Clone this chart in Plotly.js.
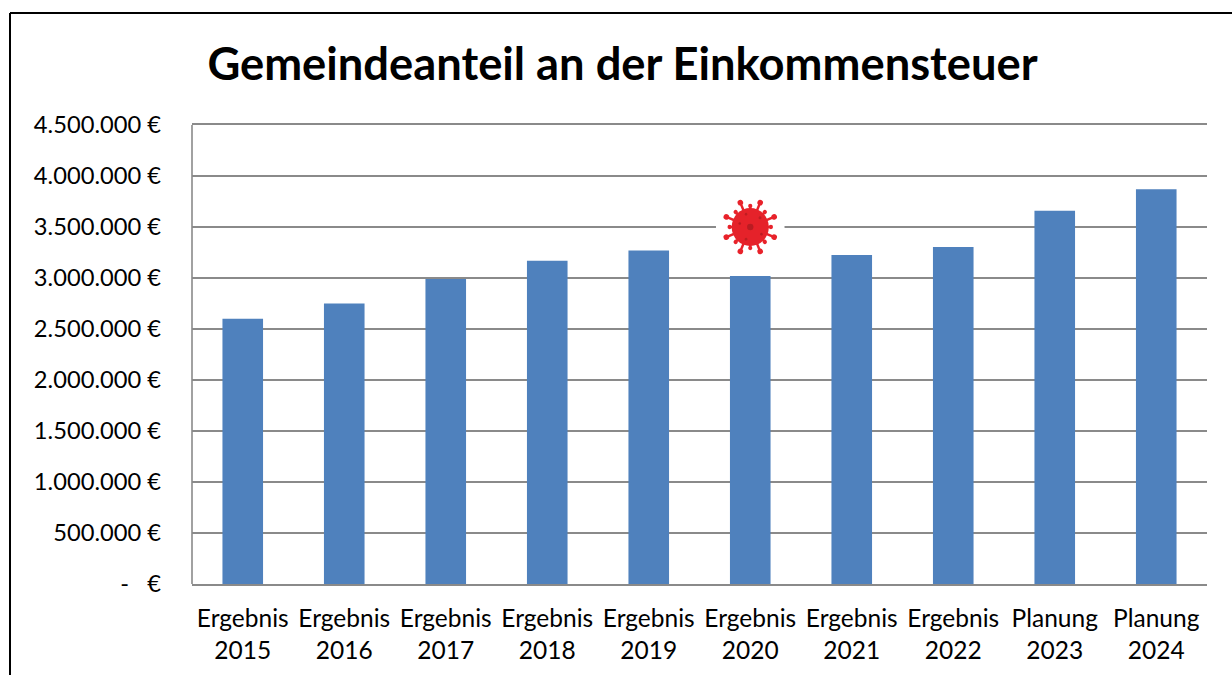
<!DOCTYPE html>
<html><head><meta charset="utf-8">
<script src="https://cdn.plot.ly/plotly-3.0.1.min.js"></script>
<style>html,body{margin:0;padding:0;background:#fff;overflow:hidden}</style>
</head><body><div id="chart" style="width:1232px;height:675px"></div>
<script>
const chartTitle = 'Gemeindeanteil an der Einkommensteuer';
const categories = ['Ergebnis<br>2015','Ergebnis<br>2016','Ergebnis<br>2017','Ergebnis<br>2018','Ergebnis<br>2019','Ergebnis<br>2020','Ergebnis<br>2021','Ergebnis<br>2022','Planung<br>2023','Planung<br>2024'];
const values = [2600000,2750000,2990000,3170000,3270000,3020000,3225000,3305000,3660000,3870000];
const tickValues = [0,500000,1000000,1500000,2000000,2500000,3000000,3500000,4000000,4500000];
const tickLabels = ['-   €','500.000 €','1.000.000 €','1.500.000 €','2.000.000 €','2.500.000 €','3.000.000 €','3.500.000 €','4.000.000 €','4.500.000 €'];
const virusCategory = 'Ergebnis<br>2020';
const virusValue = 3500000;

let spikes = '';
for (let i = 0; i < 8; i++) {
  spikes += `<g transform="rotate(${i*45+22.5} 50 50)"><line x1="50" y1="50" x2="50" y2="14" stroke="#e8232a" stroke-width="3.5"/><circle cx="50" cy="13" r="4" fill="#e8232a"/></g>`;
  spikes += `<g transform="rotate(${i*45} 50 50)"><line x1="50" y1="50" x2="50" y2="20" stroke="#e8232a" stroke-width="3.5"/><circle cx="50" cy="20.5" r="3" fill="#e8232a"/></g>`;
}
const svg = `<svg xmlns="http://www.w3.org/2000/svg" width="100" height="100" viewBox="0 0 100 100"><defs><filter id="b"><feGaussianBlur stdDeviation="0.7"/></filter></defs><circle cx="50" cy="50" r="49" fill="#fff"/><g filter="url(#b)">${spikes}<circle cx="50" cy="50" r="26.5" fill="#e5222a"/><circle cx="50" cy="50" r="4.5" fill="#b91c22"/><circle cx="35" cy="45" r="1.8" fill="#b91c22"/><circle cx="64" cy="37" r="2.2" fill="#c01e24"/><circle cx="66" cy="60" r="1.8" fill="#b91c22"/><circle cx="44" cy="67" r="2" fill="#c01e24"/><circle cx="44" cy="32" r="1.8" fill="#c01e24"/></g></svg>`;
const virusSrc = 'data:image/svg+xml;base64,' + btoa(svg);

const W = 1232, H = 675;
const font = 'Lato, "Open Sans", sans-serif';
Plotly.newPlot('chart', [{
  type: 'bar', x: categories, y: values,
  marker: {color: '#4f81bd', line: {width: 0}},
  width: 0.4, hoverinfo: 'x+y'
}], {
  width: W, height: H, autosize: false,
  paper_bgcolor: '#fff', plot_bgcolor: '#fff', showlegend: false,
  margin: {l: 192, r: 25, t: 125, b: 91, pad: 0},
  title: {text: '<b>' + chartTitle + '</b>', font: {family: font, size: 45.3, color: '#000'},
    x: 622.5/W, xanchor: 'center', y: 1 - 64/H, yanchor: 'middle'},
  bargap: 0.6,
  xaxis: {type: 'category', categoryorder: 'array', categoryarray: categories, range: [-0.5, 9.5],
    showgrid: false, zeroline: false, showline: true, linecolor: '#8a8a8a', linewidth: 2, mirror: true,
    ticks: '', tickfont: {family: font, size: 24.5, color: '#000'}, automargin: false, tickangle: 0, ticklen: 0, ticklabelstandoff: 12},
  yaxis: {range: [0, 4500000], tickmode: 'array', tickvals: tickValues, ticktext: tickLabels,
    showgrid: true, gridcolor: '#8a8a8a', gridwidth: 2, zeroline: false, showline: false,
    ticks: '', tickfont: {family: font, size: 23.7, color: '#000'}, automargin: false, ticklabelstandoff: 30},
  shapes: [
    {type: 'line', xref: 'paper', yref: 'paper', x0: 0, x1: 0, y0: 0, y1: 1, line: {color: '#8a8a8a', width: 1.6}},
    {type: 'line', xref: 'paper', yref: 'paper', x0: -182/1015, x1: 1.03, y0: 1+112/459, y1: 1+112/459, line: {color: '#000', width: 2}},
    {type: 'line', xref: 'paper', yref: 'paper', x0: -182/1015, x1: -182/1015, y0: -91/459, y1: 1+112/459, line: {color: '#000', width: 2}}
  ],
  images: [{source: virusSrc, xref: 'x', yref: 'y', x: virusCategory, y: virusValue,
    sizex: 0.69, sizey: 700000, xanchor: 'center', yanchor: 'middle', sizing: 'stretch', layer: 'above'}]
}, {displayModeBar: false, staticPlot: true});
</script></body></html>
